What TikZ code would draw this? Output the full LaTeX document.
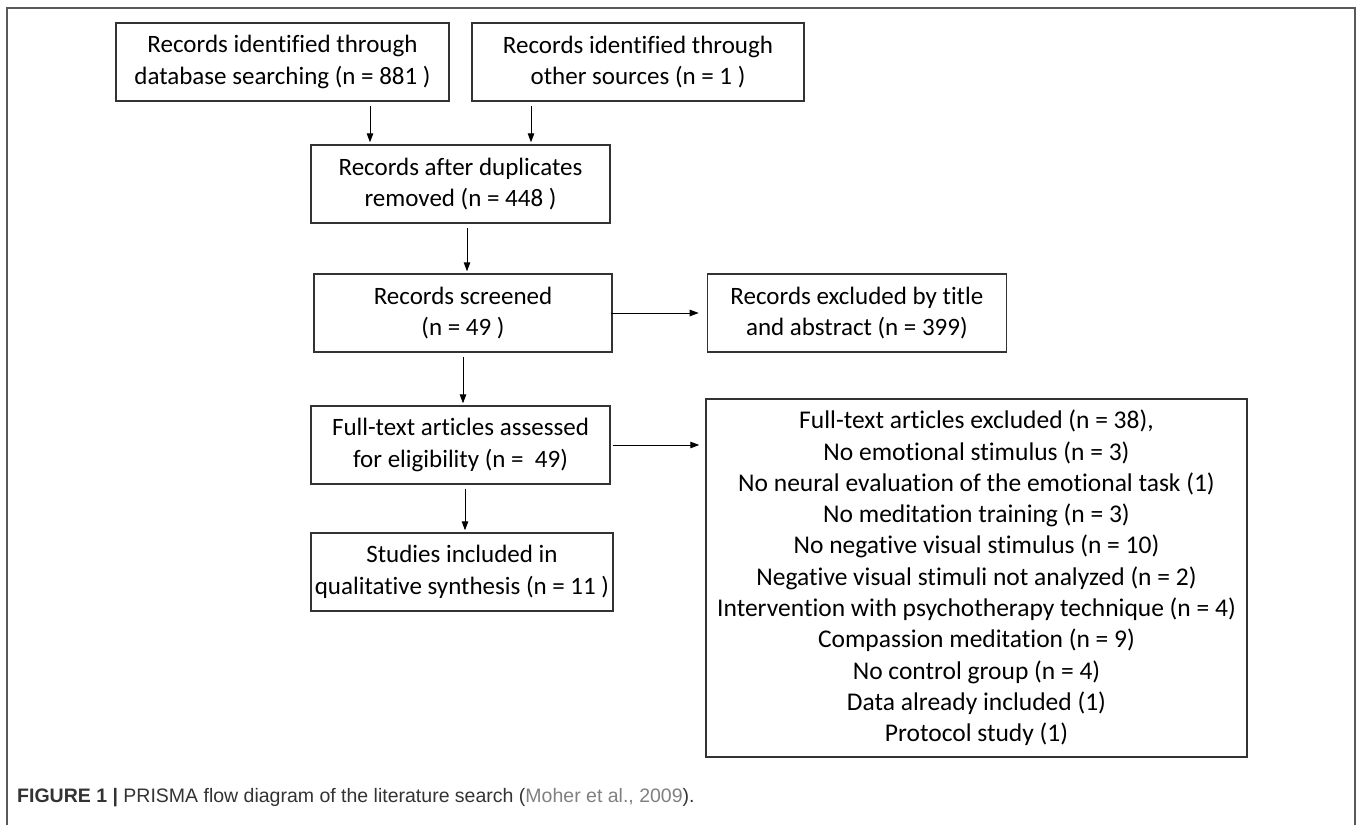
\documentclass[tikz,border=0pt]{standalone}
\usepackage{fontspec}
\setmainfont{Carlito}[Ligatures=NoCommon]
\newfontfamily\capfont{Liberation Sans}
\usetikzlibrary{arrows.meta,positioning}

\begin{document}
\begin{tikzpicture}[x=1pt,y=-1pt,
	box/.style={draw=black!80,line width=1.4pt,align=center,inner sep=0pt,minimum height=78pt,font=\fontsize{25}{31.5}\selectfont},
	arr/.style={-{Triangle[length=9pt,width=6.5pt]},line width=1pt,shorten <=4pt,shorten >=2pt}]
	\useasboundingbox (0,0) rectangle (1357,825);
	\draw[black!65,line width=2pt] (7,825) -- (7,8) -- (1355,8) -- (1355,825);

	\node[box,minimum width=333pt] (ident) at (282.5,62) {Records identified through\\database searching (n = 881 )};
	\node[box,minimum width=332pt] (other) at (638,62) {Records identified through\\other sources (n = 1 )};
	\node[box,minimum width=299pt] (dupl) at (460.5,184) {Records after duplicates\\removed (n = 448 )};
	\node[box,minimum width=298pt] (screen) at (463,313) {Records screened\\(n = 49 )};
	\node[box,minimum width=299pt,right=94pt of screen] (exclA) {Records excluded by title\\and abstract (n = 399)};
	\node[box,minimum width=299pt] (full) at (460.5,445) {Full-text articles assessed\\for eligibility (n = \ 49)};
	\node[box,minimum width=541pt,minimum height=358pt,font=\fontsize{25.5}{31.3}\selectfont] (exclB) at (976.5,578) {Full-text articles excluded (n = 38),\\No emotional stimulus (n = 3)\\No neural evaluation of the emotional task (1)\\No meditation training (n = 3)\\No negative visual stimulus (n = 10)\\Negative visual stimuli not analyzed (n = 2)\\Intervention with psychotherapy technique (n = 4)\\Compassion meditation (n = 9)\\No control group (n = 4)\\Data already included (1)\\Protocol study (1)};
	\node[box,minimum width=302pt] (incl) at (462,572) {Studies included in\\qualitative synthesis (n = 11 )};

	\draw[arr] ([xshift=-90.5pt]dupl.north |- ident.south) -- ([xshift=-90.5pt]dupl.north);
	\draw[arr] ([xshift=70.5pt]dupl.north |- other.south) -- ([xshift=70.5pt]dupl.north);
	\draw[arr] ([xshift=6.5pt]dupl.south) -- ([xshift=6.5pt]dupl.south |- screen.north);
	\draw[arr] (screen.south) -- (screen.south |- full.north);
	\draw[arr] ([xshift=4.5pt]full.south) -- ([xshift=4.5pt]full.south |- incl.north);
	\draw[arr,shorten <=-2pt,shorten >=8pt] (screen.east) -- (exclA.west);
	\draw[arr,shorten <=2pt,shorten >=6pt] (full.east) -- (full.east -| exclB.west);

	\node[anchor=west,inner sep=0pt,text=black!80,font=\capfont\fontsize{19.5}{22}\selectfont] (caption) at (17,798) {\textbf{FIGURE 1 |} PRISMA flow diagram of the literature search (\textcolor{black!50}{Moher et al., 2009}).};
\end{tikzpicture}
\end{document}
